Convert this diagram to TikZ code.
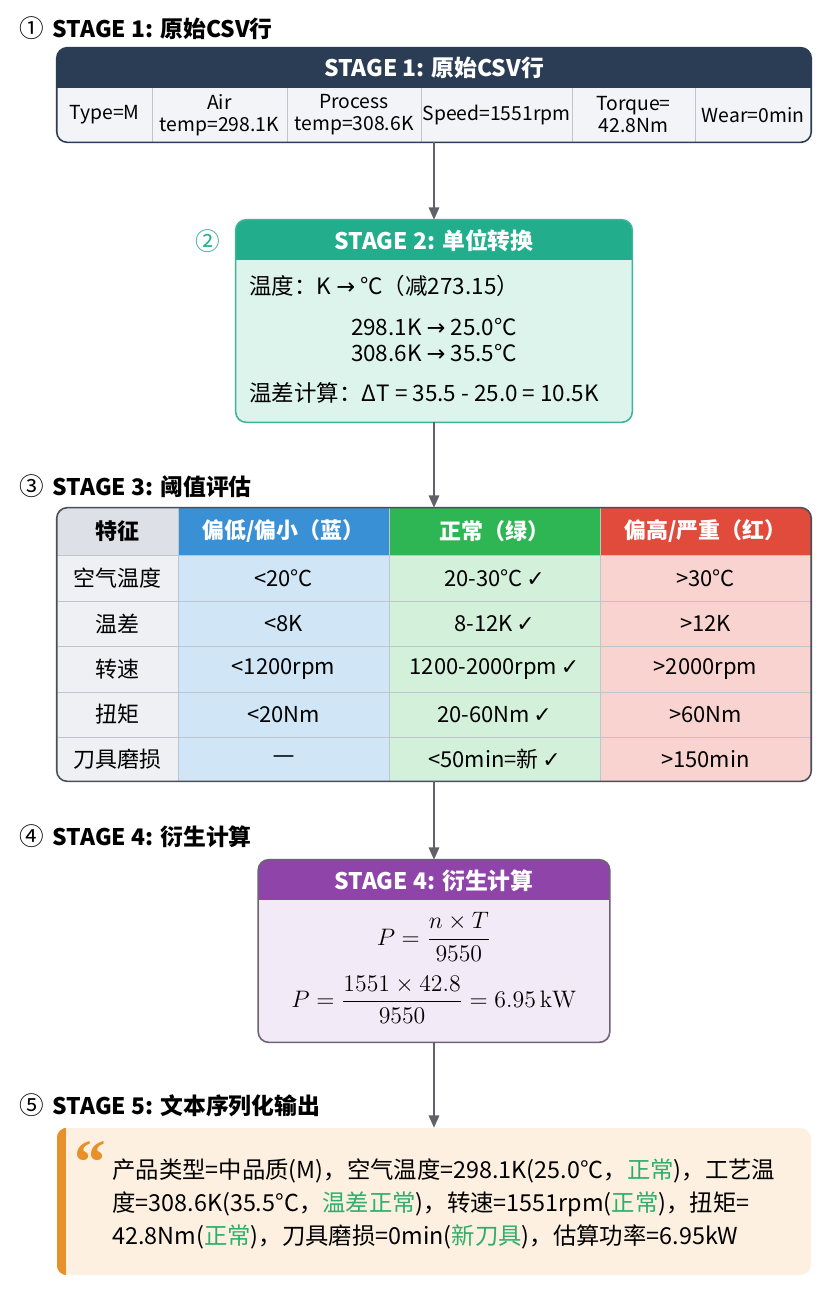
\documentclass[tikz,border=0pt]{standalone}
\usepackage[no-math]{fontspec}
\setmainfont{Noto Sans CJK SC}
\newfontfamily\symfont{DejaVu Sans}
\newfontfamily\quotefont{Liberation Serif}
\usetikzlibrary{arrows.meta}

\definecolor{navy}{HTML}{2B3D55}
\definecolor{cellgray}{HTML}{F2F4F7}
\definecolor{gridgray}{HTML}{BFC5CC}
\definecolor{tealhead}{HTML}{22AD8C}
\definecolor{tealline}{HTML}{3DB596}
\definecolor{mint}{HTML}{DDF4EC}
\definecolor{thgray}{HTML}{DDE0E6}
\definecolor{thblue}{HTML}{3A90D4}
\definecolor{thgreen}{HTML}{2DB653}
\definecolor{thred}{HTML}{E04B3C}
\definecolor{tbgray}{HTML}{EEF0F3}
\definecolor{tbblue}{HTML}{D0E6F6}
\definecolor{tbgreen}{HTML}{D3F0DA}
\definecolor{tbred}{HTML}{F9D3CF}
\definecolor{tabline}{HTML}{4A4F57}
\definecolor{purplehead}{HTML}{8E44A8}
\definecolor{purpleline}{HTML}{6E6275}
\definecolor{lavender}{HTML}{F3EAF7}
\definecolor{cream}{HTML}{FDF0E0}
\definecolor{qorange}{HTML}{E8902A}
\definecolor{okgreen}{HTML}{2DAF6B}
\definecolor{arrowgray}{HTML}{5F6368}

\newcommand{\ok}{\,{\symfont\bfseries ✓}}
\newcommand{\ar}{{\symfont →}}
\newcommand{\gr}[1]{\textcolor{okgreen}{#1}}
\newcommand{\circnum}[1]{{\mdseries\fontsize{14}{14}\selectfont #1}\hspace{5pt}}

\tikzset{
  secttitle/.style={anchor=west, inner sep=0pt, font=\fontsize{13}{15}\selectfont\bfseries},
  headtext/.style={text=white, inner sep=0pt, font=\fontsize{13}{15}\selectfont\bfseries},
  flow/.style={-{Triangle[length=7pt,width=6pt]}, draw=arrowgray, line width=0.9pt},
}

\begin{document}
\begin{tikzpicture}[x=0.02cm, y=-0.02cm, font=\fontsize{11}{12.5}\selectfont]
  \useasboundingbox (0,0) rectangle (832,1296);
  \fill[white] (0,0) rectangle (832,1296);

  % 标题
  \node[secttitle] (l1) at (19,28) {\circnum{①}STAGE 1: 原始CSV行};
  \node[secttitle, text=tealhead] (l2) at (195,241) {\circnum{②}};
  \node[secttitle] (l3) at (19,486) {\circnum{③}STAGE 3: 阈值评估};
  \node[secttitle] (l4) at (19,836) {\circnum{④}STAGE 4: 衍生计算};
  \node[secttitle] (l5) at (19,1105) {\circnum{⑤}STAGE 5: 文本序列化输出};

  % STAGE 1
  \node[fill=cellgray, rounded corners=6pt, minimum width=15.08cm, minimum height=1.88cm] (s1) at (434,95) {};
  \begin{scope}
    \clip[rounded corners=6pt] (s1.north west) rectangle (s1.south east);
    \fill[navy] (s1.north west) rectangle ([yshift=-0.8cm]s1.north east);
    \foreach \x in {152,287,421,572,695}
      \draw[gridgray] (\x,88) -- (\x,142);
  \end{scope}
  \draw[navy, rounded corners=6pt, line width=0.9pt] (s1.north west) rectangle (s1.south east);
  \node[headtext] (s1title) at (434,68) {STAGE 1: 原始CSV行};
  \foreach \x/\t [count=\i] in {104.5/Type=M, 219.5/{Air\\temp=298.1K}, 354/{Process\\temp=308.6K},
      496.5/Speed=1551rpm, 633.5/{Torque=\\42.8Nm}, 753/Wear=0min}
    \node[align=center, inner sep=0pt] (c\i) at (\x,115) {\t};

  % STAGE 2
  \node[fill=mint, rounded corners=6pt, minimum width=7.92cm, minimum height=4.04cm] (s2) at (434,321) {};
  \begin{scope}
    \clip[rounded corners=6pt] (s2.north west) rectangle (s2.south east);
    \fill[tealhead] (s2.north west) rectangle ([yshift=-0.8cm]s2.north east);
  \end{scope}
  \draw[tealline, rounded corners=6pt, line width=0.9pt] (s2.north west) rectangle (s2.south east);
  \node[headtext] (s2title) at (434,241) {STAGE 2: 单位转换};
  \begin{scope}[font=\fontsize{12.8}{15}\selectfont, inner sep=0pt]
    \node[anchor=west] (k1) at (249,286) {温度：K \ar{} °C（减273.15）};
    \node (k2) at (434,327) {298.1K \ar{} 25.0°C};
    \node (k3) at (434,353) {308.6K \ar{} 35.5°C};
    \node[anchor=west] (k4) at (249,393) {温差计算：ΔT = 35.5 - 25.0 = 10.5K};
  \end{scope}

  % STAGE 3
  \node[minimum width=15.08cm, minimum height=5.46cm] (tab) at (434,644.5) {};
  \begin{scope}
    \clip[rounded corners=6pt] (tab.north west) rectangle (tab.south east);
    \foreach \xa/\xb/\hc/\bc in {57/178/thgray/tbgray, 178/389/thblue/tbblue,
        389/600/thgreen/tbgreen, 600/811/thred/tbred} {
      \fill[\hc] (\xa,508) rectangle (\xb,555);
      \fill[\bc] (\xa,555) rectangle (\xb,781);
    }
    \foreach \y in {555,601,646,692,737}
      \draw[gridgray] (57,\y) -- (811,\y);
    \foreach \x in {178,389,600}
      \draw[gridgray] (\x,508) -- (\x,781);
  \end{scope}
  \draw[tabline, rounded corners=6pt, line width=0.9pt] (tab.north west) rectangle (tab.south east);
  \begin{scope}[font=\fontsize{12.5}{15}\selectfont, inner sep=0pt]
    \node[font=\fontsize{12.5}{15}\selectfont\bfseries] (h1) at (117.5,531.5) {特征};
    \node[headtext, font=\fontsize{12.5}{15}\selectfont\bfseries] (h2) at (283.5,531.5) {偏低/偏小（蓝）};
    \node[headtext, font=\fontsize{12.5}{15}\selectfont\bfseries] (h3) at (494.5,531.5) {正常（绿）};
    \node[headtext, font=\fontsize{12.5}{15}\selectfont\bfseries] (h4) at (705.5,531.5) {偏高/严重（红）};
    \foreach \y/\a/\b/\c/\d [count=\r] in {578/空气温度/<20°C/20-30°C\ok/>30°C,
        623.5/温差/<8K/8-12K\ok/>12K,
        669/转速/<1200rpm/1200-2000rpm\ok/>2000rpm,
        714.5/扭矩/<20Nm/20-60Nm\ok/>60Nm,
        759/刀具磨损/{\symfont —}/<50min=新\ok/>150min} {
      \node (r\r a) at (117.5,\y) {\a};
      \node (r\r b) at (283.5,\y) {\b};
      \node (r\r c) at (494.5,\y) {\c};
      \node (r\r d) at (705.5,\y) {\d};
    }
  \end{scope}

  % STAGE 4
  \node[fill=lavender, rounded corners=6pt, minimum width=7.02cm, minimum height=3.64cm] (s4) at (434,951) {};
  \begin{scope}
    \clip[rounded corners=6pt] (s4.north west) rectangle (s4.south east);
    \fill[purplehead] (s4.north west) rectangle ([yshift=-0.8cm]s4.north east);
  \end{scope}
  \draw[purpleline, rounded corners=6pt, line width=0.9pt] (s4.north west) rectangle (s4.south east);
  \node[headtext] (s4title) at (434,881) {STAGE 4: 衍生计算};
  \begin{scope}[font=\large, inner sep=0pt]
    \node (f1) at (434,937) {\scalebox{1.13}{$\displaystyle P=\frac{n\times T}{9550}$}};
    \node (f2) at (434,1000) {\scalebox{1.13}{$\displaystyle P=\frac{1551\times 42.8}{9550}=6.95\,\mathrm{kW}$}};
  \end{scope}

  % STAGE 5
  \node[fill=cream, rounded corners=6pt, minimum width=15.08cm, minimum height=2.94cm] (s5) at (434,1201.5) {};
  \begin{scope}
    \clip[rounded corners=6pt] (s5.north west) rectangle (s5.south east);
    \fill[qorange] (s5.north west) rectangle ([xshift=0.18cm]s5.south west);
  \end{scope}
  \node[text=qorange, inner sep=0pt, font=\quotefont\fontsize{36}{36}\selectfont\bfseries] (q) at (90,1162) {“};
  \node[anchor=west, align=left, inner sep=0pt, font=\fontsize{13.3}{18.7}\selectfont] (out) at (112,1204)
    {产品类型=中品质(M)，空气温度=298.1K(25.0°C，\gr{正常})，工艺温\\
     度=308.6K(35.5°C，\gr{温差正常})，转速=1551rpm(\gr{正常})，扭矩=\\
     42.8Nm(\gr{正常})，刀具磨损=0min(\gr{新刀具})，估算功率=6.95kW};

  % 箭头
  \draw[flow] (s1) -- (s2);
  \draw[flow] (s2) -- (tab);
  \draw[flow] (tab) -- (s4);
  \draw[flow] (s4) -- (s5);
\end{tikzpicture}
\end{document}
